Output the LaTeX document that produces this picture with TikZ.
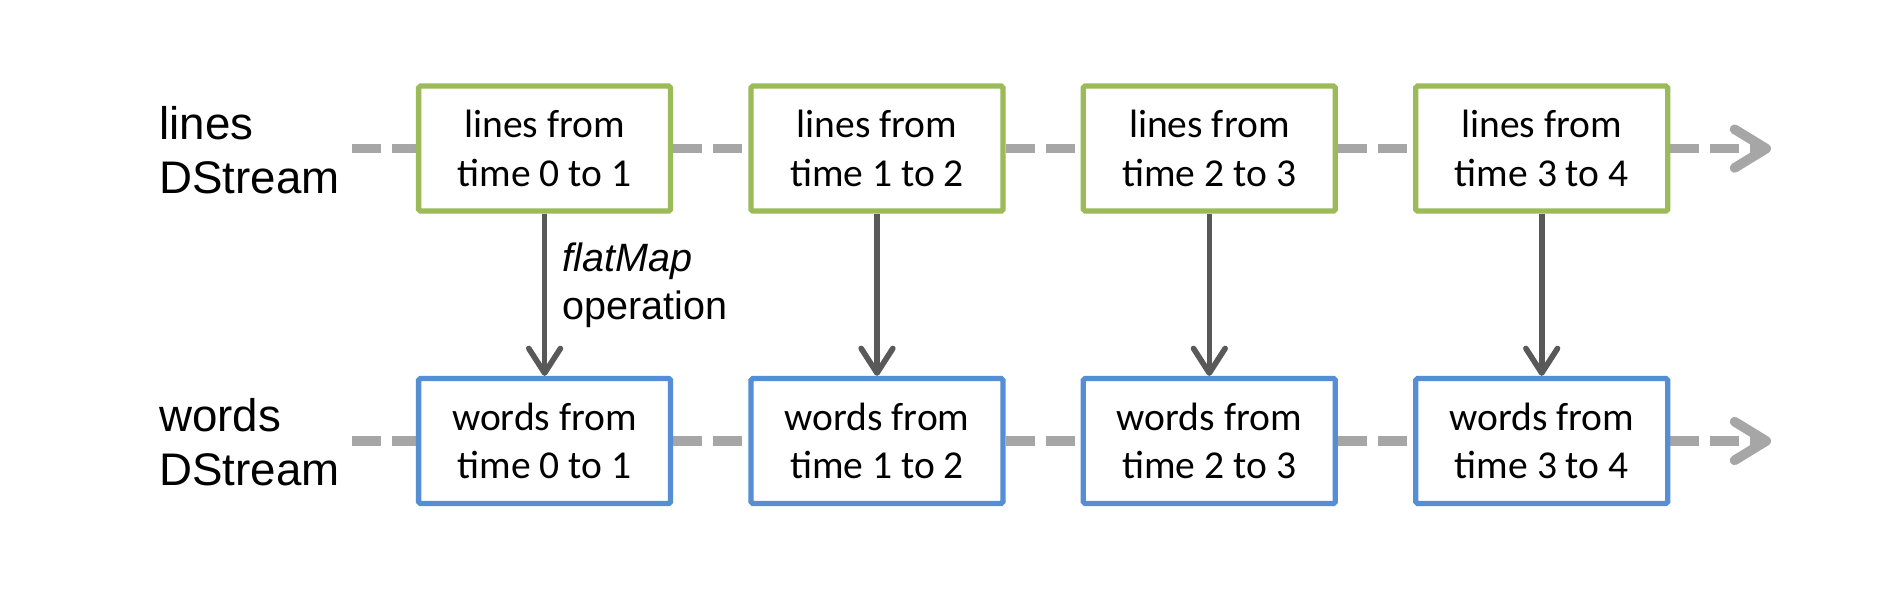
\documentclass[tikz,border=0pt]{standalone}
\usepackage{fontspec}
\setmainfont{Carlito}
\newfontfamily\arialfont{Liberation Sans}
\usetikzlibrary{arrows.meta,backgrounds}
\definecolor{gboxc}{HTML}{9BBB59}
\definecolor{bboxc}{HTML}{558ED5}
\definecolor{dashc}{HTML}{A6A6A6}
\definecolor{arrc}{HTML}{595959}
\begin{document}
\begin{tikzpicture}[x=0.02cm,y=-0.02cm,
  box/.style={draw, line width=3pt, fill=white, minimum width=5.04cm, minimum height=2.5cm,
    rounded corners=1pt, align=center, inner sep=0pt, font=\fontsize{22.5}{27.6}\selectfont},
  linebox/.style={box, draw=gboxc},
  wordbox/.style={box, draw=bboxc},
  flow/.style={draw=dashc, line width=5.5pt, dash pattern=on 16.5pt off 6.3pt},
  flowend/.style={flow, -{Straight Barb[length=18pt,width=22pt,round]}},
  op/.style={draw=arrc, line width=3.2pt, -{Straight Barb[length=14pt,width=18pt,round]}},
  lbl/.style={font=\arialfont\fontsize{26}{31}\selectfont, align=left, anchor=west, inner sep=0pt},
  oplbl/.style={font=\arialfont\fontsize{22.5}{27.5}\selectfont, align=left, anchor=west, inner sep=0pt}]
\useasboundingbox (0,0) rectangle (1902,590);

\node[lbl] (lt) at (159,150) {lines\\DStream};
\node[lbl] (wt) at (159,442) {words\\DStream};

\node[linebox] (l0) at (544.6,148.6) {lines from\\time 0 to 1};
\node[linebox] (l1) at (877,148.6) {lines from\\time 1 to 2};
\node[linebox] (l2) at (1209.3,148.6) {lines from\\time 2 to 3};
\node[linebox] (l3) at (1541.7,148.6) {lines from\\time 3 to 4};

\node[wordbox] (w0) at (544.6,441) {words from\\time 0 to 1};
\node[wordbox] (w1) at (877,441) {words from\\time 1 to 2};
\node[wordbox] (w2) at (1209.3,441) {words from\\time 2 to 3};
\node[wordbox] (w3) at (1541.7,441) {words from\\time 3 to 4};

\coordinate (ls) at (352,148.6);
\coordinate (le) at (1771,148.6);
\coordinate (ws) at (352,441);
\coordinate (we) at (1771,441);

\begin{scope}[on background layer]
\fill[white] (0,0) rectangle (1902,590);
\draw[flow] (ls) -- (l0);
\draw[flow] (l0) -- (l1);
\draw[flow] (l1) -- (l2);
\draw[flow] (l2) -- (l3);
\draw[flowend] (l3) -- (le);
\draw[flow] (ws) -- (w0);
\draw[flow] (w0) -- (w1);
\draw[flow] (w1) -- (w2);
\draw[flow] (w2) -- (w3);
\draw[flowend] (w3) -- (we);
\end{scope}

\draw[op] (l0) -- (w0);
\draw[op] (l1) -- (w1);
\draw[op] (l2) -- (w2);
\draw[op] (l3) -- (w3);

\node[oplbl] (fm) at (562,285) {\itshape flatMap\\operation};
\end{tikzpicture}
\end{document}
